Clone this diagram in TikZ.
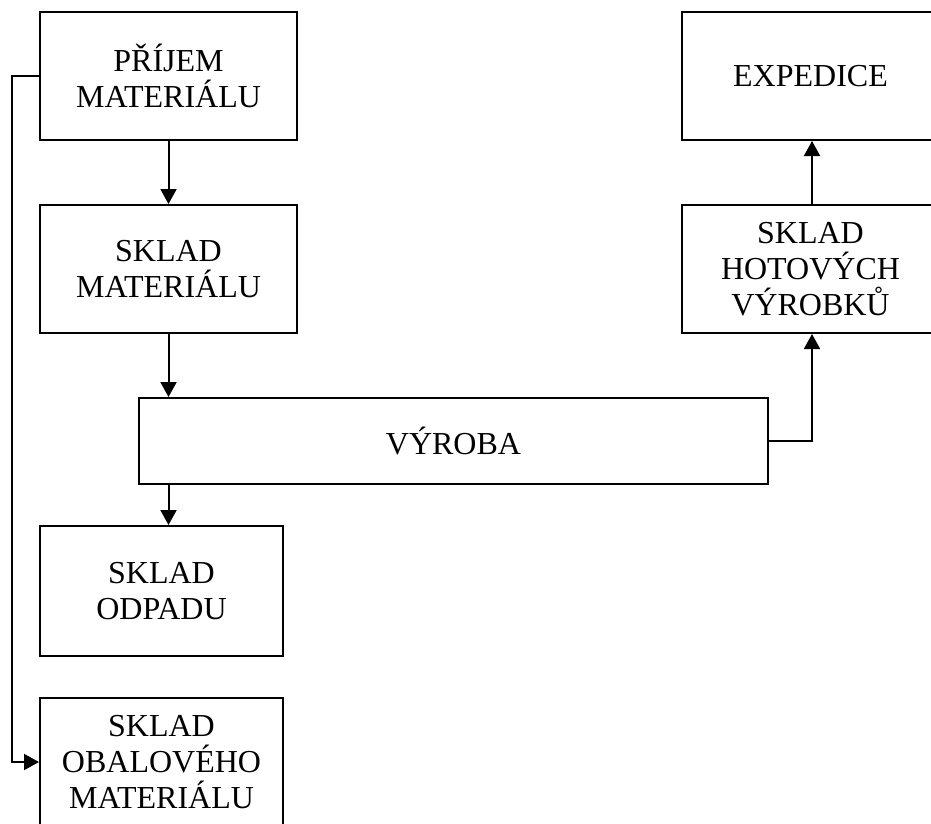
\documentclass[tikz,border=0pt]{standalone}
\usepackage{fontspec}
\setmainfont{Liberation Serif}
\usetikzlibrary{arrows.meta}
\begin{document}
\begin{tikzpicture}[x=1pt,y=1pt,
  box/.style={draw, line width=2pt, align=center, inner sep=0pt,
    font=\fontsize{32}{36}\selectfont},
  arr/.style={line width=2pt, -{Triangle[width=16pt,length=15pt]}}]
\useasboundingbox (0,0) rectangle (931,-823);
\node[box, minimum width=257pt, minimum height=128pt] (A) at (168.5,-76) {PŘÍJEM\\MATERIÁLU};
\node[box, minimum width=257pt, minimum height=128pt] (B) at (168.5,-269) {SKLAD\\MATERIÁLU};
\node[box, minimum width=629pt, minimum height=86pt] (C) at (453.5,-441) {VÝROBA};
\node[box, minimum width=243pt, minimum height=130pt] (D) at (161.5,-591) {SKLAD\\ODPADU};
\node[box, minimum width=243pt, minimum height=128pt] (E) at (161.5,-762) {SKLAD\\OBALOVÉHO\\MATERIÁLU};
\node[box, minimum width=257pt, minimum height=128pt] (F) at (810.5,-76) {EXPEDICE};
\node[box, minimum width=257pt, minimum height=128pt] (G) at (810.5,-269) {SKLAD\\HOTOVÝCH\\VÝROBKŮ};
\coordinate (L) at (12,-76);
\coordinate (R) at (812,-441);
\draw[arr] (A.west) -- (L) -- (L |- E.west) -- (E.west);
\draw[arr] (A.south) -- (B.north);
\draw[arr] (B.south) -- (B.south |- C.north);
\draw[arr] (B.south |- C.south) -- (B.south |- D.north);
\draw[arr] (C.east) -- (R) -- (R |- G.south);
\draw[arr] (R |- G.north) -- (R |- F.south);
\end{tikzpicture}
\end{document}
